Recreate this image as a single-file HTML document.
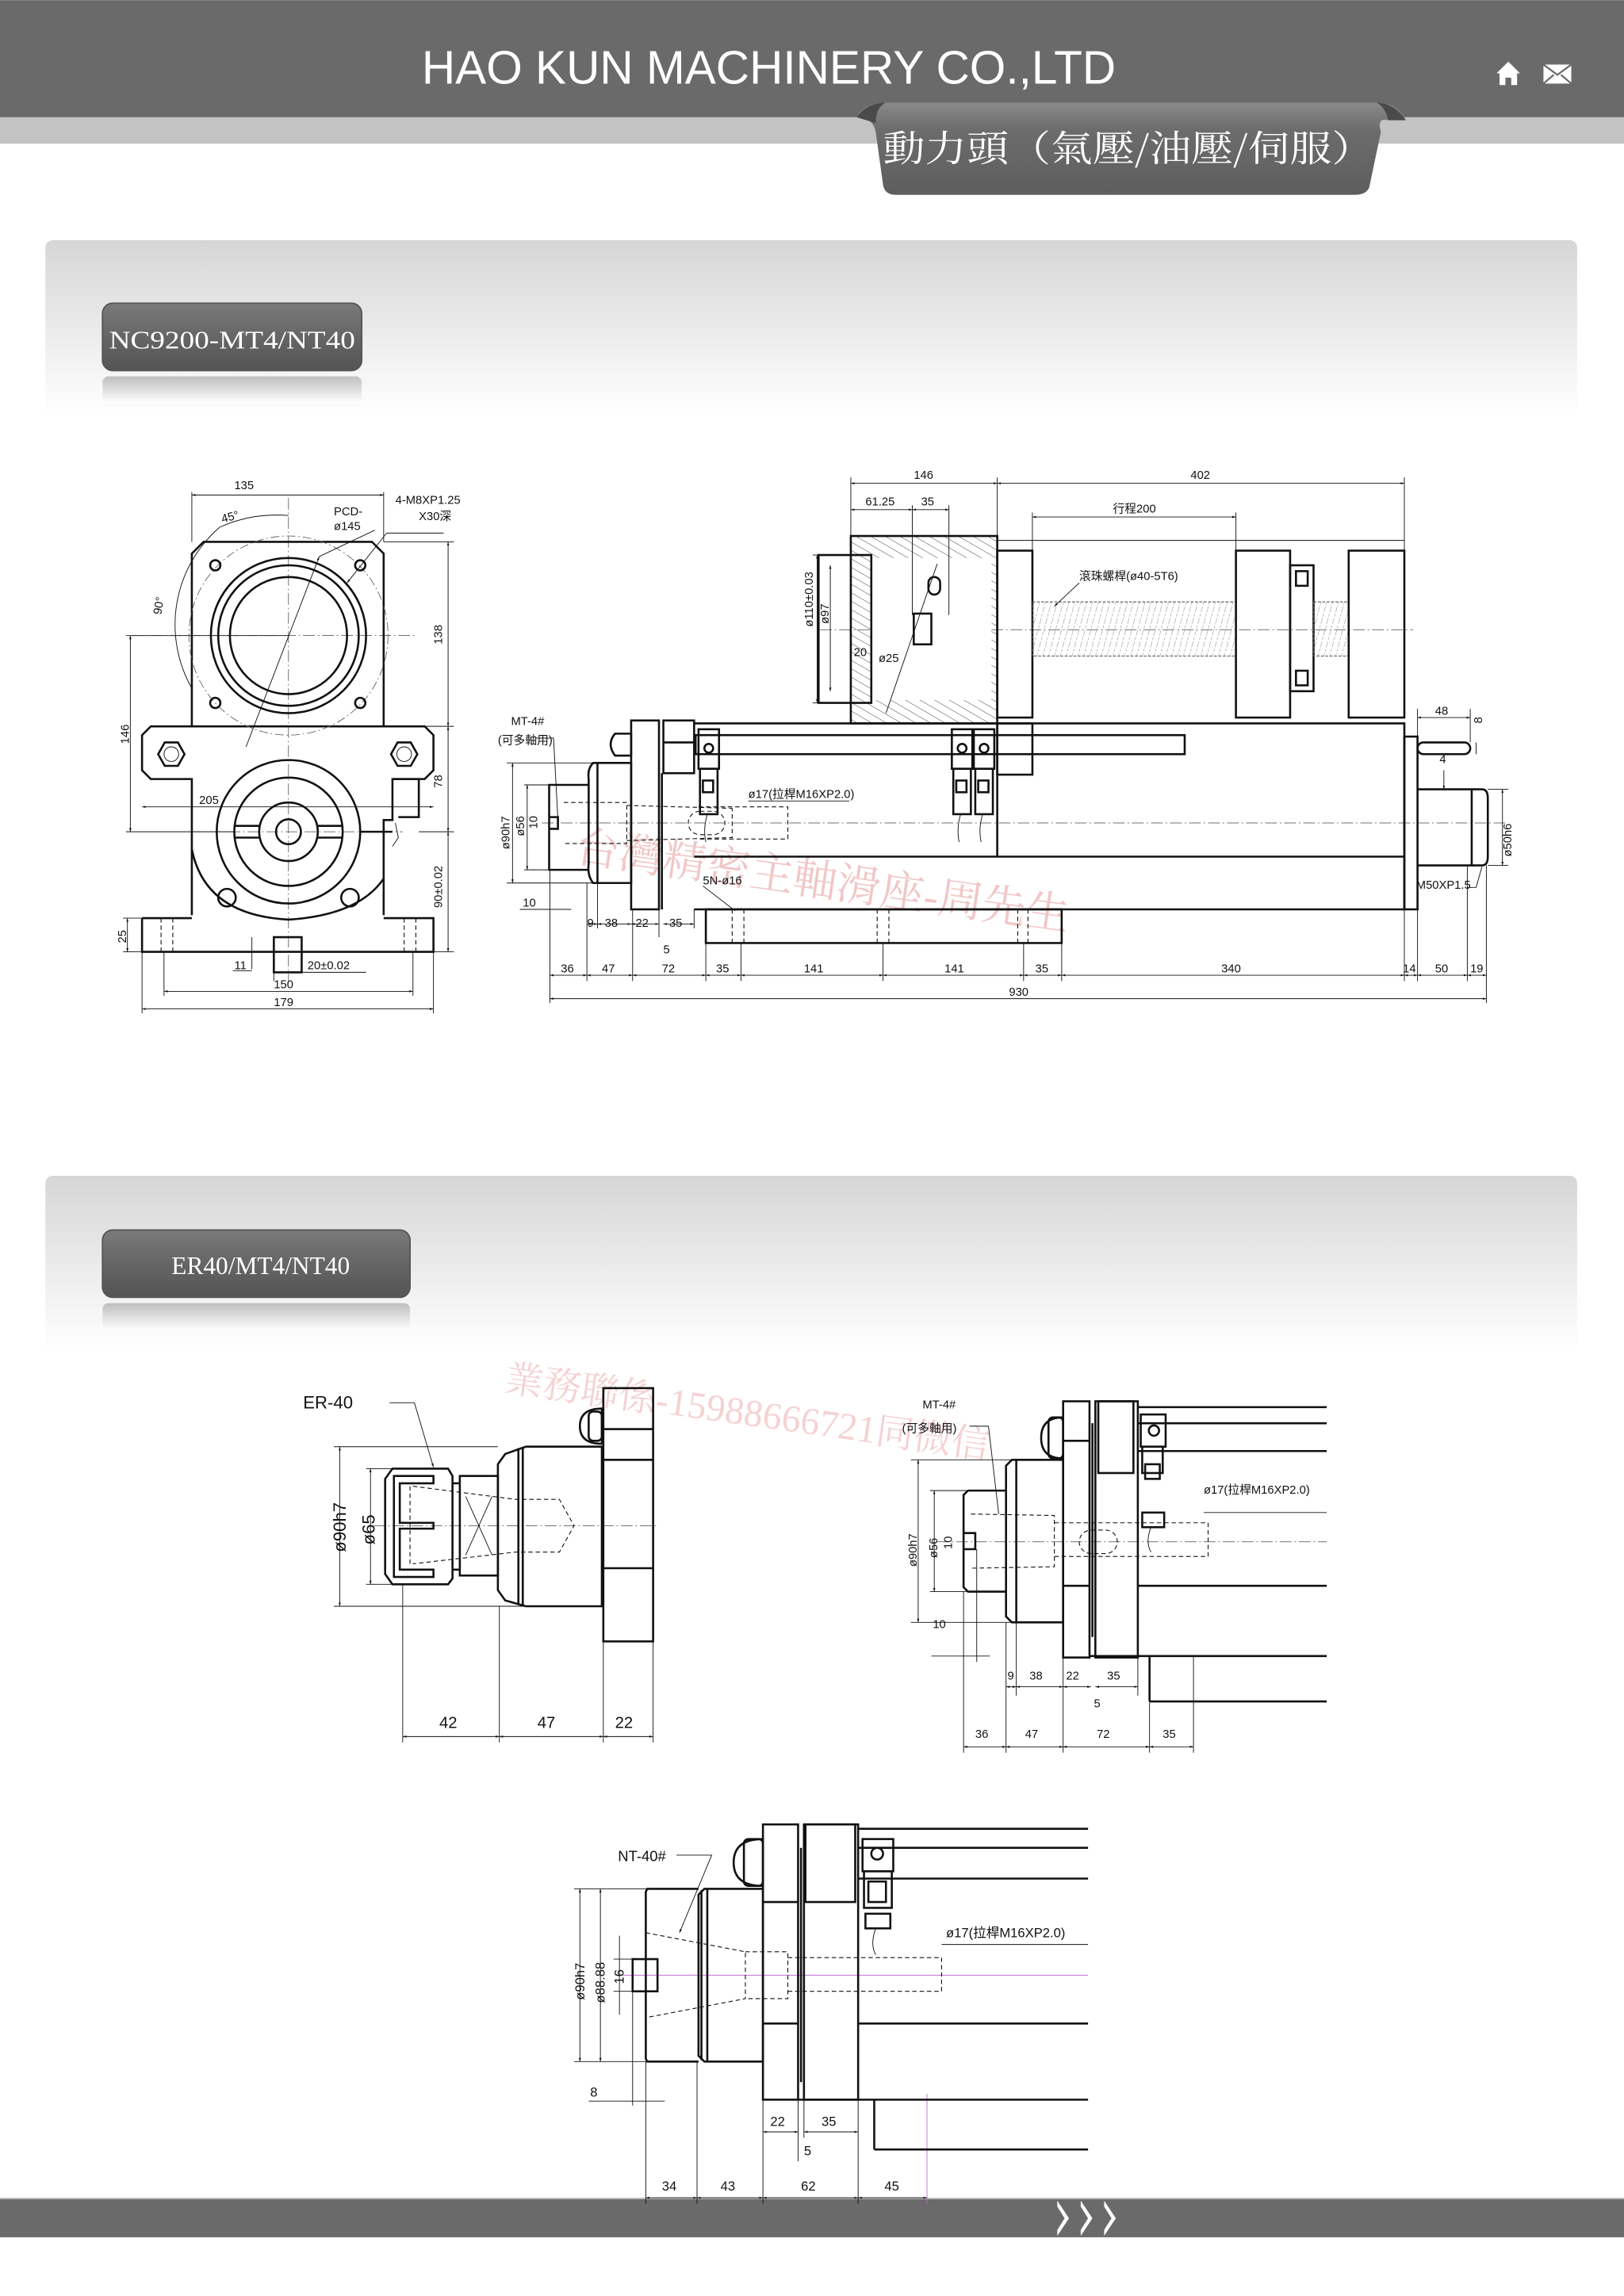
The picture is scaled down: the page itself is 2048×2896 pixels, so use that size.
<!DOCTYPE html>
<html><head><meta charset="utf-8"><style>
html,body{margin:0;padding:0;background:#fff;}
svg{display:block;}
.d{font-family:"Liberation Sans","Noto Sans CJK TC",sans-serif;font-size:8px;fill:#111;}
.k{stroke:#111;fill:none;stroke-width:1.4;}
.t{stroke:#111;fill:none;stroke-width:0.5;}
.c{stroke:#444;fill:none;stroke-width:0.4;stroke-dasharray:8 2 1 2;}
.h{stroke:#111;fill:none;stroke-width:0.6;stroke-dasharray:3 2;}
</style></head><body>
<svg width="2048" height="2896" viewBox="0 0 1109 1568" xmlns="http://www.w3.org/2000/svg">
<defs>
<linearGradient id="pg" x1="0" y1="0" x2="0" y2="1"><stop offset="0" stop-color="#d6d6d6"/><stop offset="1" stop-color="#fff"/></linearGradient>
<linearGradient id="lb" x1="0" y1="0" x2="0" y2="1"><stop offset="0" stop-color="#7a7a7a"/><stop offset="0.5" stop-color="#666"/><stop offset="1" stop-color="#545454"/></linearGradient>
<linearGradient id="rf" x1="0" y1="0" x2="0" y2="1"><stop offset="0" stop-color="#9a9a9a"/><stop offset="1" stop-color="#fff"/></linearGradient>
<linearGradient id="rb" x1="0" y1="0" x2="0" y2="1"><stop offset="0" stop-color="#8a8a8a"/><stop offset="0.3" stop-color="#6c6c6c"/><stop offset="1" stop-color="#5e5e5e"/></linearGradient>
<pattern id="hat" width="5" height="5" patternUnits="userSpaceOnUse" patternTransform="rotate(-60)"><line x1="0" y1="0" x2="0" y2="5" stroke="#333" stroke-width="0.5"/></pattern>
<pattern id="thr" width="4" height="8" patternUnits="userSpaceOnUse" patternTransform="skewX(-15)"><line x1="0" y1="0" x2="0" y2="8" stroke="#555" stroke-width="0.4" stroke-dasharray="2 1"/></pattern>
<marker id="a" viewBox="0 0 10 10" refX="10" refY="5" markerWidth="5" markerHeight="5" orient="auto-start-reverse"><path d="M0 2L10 5L0 8z" fill="#111"/></marker>
</defs>

<!-- HEADER -->
<rect x="0" y="0" width="1109" height="80" fill="#6a6a6a"/>
<rect x="0" y="80" width="1109" height="18" fill="#c3c3c3"/>
<text x="288" y="57" fill="#fff" font-family="Liberation Sans, sans-serif" font-size="32" textLength="474" lengthAdjust="spacingAndGlyphs">HAO KUN MACHINERY CO.,LTD</text>
<g fill="#fff"><path d="M1030 42l-8 8h2v8h4v-5h4v5h4v-8h2z"/><rect x="1054" y="44" width="19" height="13" fill="#fff"/><path d="M1054 44l9.5 7 9.5-7M1054 57l7-6M1073 57l-7-6" stroke="#6a6a6a" stroke-width="1.2" fill="none"/></g>
<path d="M585 80 Q590 70 605 70 L940 70 Q955 70 960 82 L948 82 Q940 80 943 90 L935 128 Q933 133 925 133 L612 133 Q604 133 603 126 L598 90 Q596 80 585 80z" fill="url(#rb)"/>
<path d="M585 80 Q592 70 605 70 Q598 73 598 84z" fill="#4a4a4a"/>
<path d="M960 82 Q952 70 940 70 Q946 73 948 82z" fill="#4a4a4a"/>
<text x="603" y="110" fill="#fff" font-family="Noto Serif CJK TC, Noto Serif CJK SC, serif" font-size="25" textLength="335" lengthAdjust="spacingAndGlyphs">動力頭（氣壓/油壓/伺服）</text>

<!-- SECTION PANELS -->
<rect x="31" y="164" width="1046" height="120" rx="5" fill="url(#pg)"/>
<rect x="31" y="803" width="1046" height="120" rx="5" fill="url(#pg)"/>
<rect x="70" y="207" width="177" height="46" rx="7" fill="url(#lb)" stroke="#555" stroke-width="1"/>
<rect x="70" y="257" width="177" height="18" rx="4" fill="url(#rf)" opacity="0.6"/>
<text x="158.5" y="238" text-anchor="middle" fill="#fff" font-family="Liberation Serif, serif" font-size="17" textLength="168" lengthAdjust="spacingAndGlyphs">NC9200-MT4/NT40</text>
<rect x="70" y="840" width="210" height="46" rx="7" fill="url(#lb)" stroke="#555" stroke-width="1"/>
<rect x="70" y="890" width="210" height="18" rx="4" fill="url(#rf)" opacity="0.6"/>
<text x="178" y="870" text-anchor="middle" fill="#fff" font-family="Liberation Serif, serif" font-size="17">ER40/MT4/NT40</text>

<!-- FOOTER -->
<rect x="0" y="1501" width="1109" height="1" fill="#bbb"/>
<rect x="0" y="1502" width="1109" height="26" fill="#6a6a6a"/>
<g fill="#fff"><path d="M722 1503l8 12-8 12v-4l5-8-5-8z"/><path d="M738 1503l8 12-8 12v-4l5-8-5-8z"/><path d="M754 1503l8 12-8 12v-4l5-8-5-8z"/></g>

<!-- WATERMARKS -->
<text x="392" y="588" fill="#e9a3a3" font-family="Liberation Serif, Noto Serif CJK TC, serif" font-size="30" transform="rotate(8 392 588)" opacity="0.6">台灣精密主軸滑座-周先生</text>
<text x="344" y="950" fill="#f0b5b5" font-family="Liberation Serif, Noto Serif CJK TC, serif" font-size="26" transform="rotate(8 344 950)" opacity="0.6">業務聯係-15988666721同微信</text>

<!-- LEFT DRAWING (front view) -->
<g>
<line class="c" x1="197" y1="340" x2="197" y2="670"/>
<line class="c" x1="90" y1="434" x2="285" y2="434"/>
<line class="c" x1="130" y1="568" x2="275" y2="568"/>
<path class="k" d="M131 378 L139 370 L254 370 L262 378 L262 496 L131 496z"/>
<line class="t" x1="131" y1="336" x2="131" y2="370"/><line class="t" x1="262" y1="336" x2="262" y2="370"/>
<line class="t" x1="131" y1="338" x2="262" y2="338" marker-start="url(#a)" marker-end="url(#a)"/>
<text class="d" x="160" y="334">135</text>
<circle class="k" cx="197" cy="434" r="53"/><circle class="k" cx="197" cy="434" r="48"/><circle class="k" cx="197" cy="434" r="40"/>
<circle cx="197" cy="434" r="68" fill="none" stroke="#666" stroke-width="0.5" stroke-dasharray="6 2 1 2"/>
<circle class="k" cx="147" cy="386" r="3.5"/><circle class="k" cx="246" cy="386" r="3.5"/><circle class="k" cx="147" cy="480" r="3.5"/><circle class="k" cx="246" cy="480" r="3.5"/>
<path class="t" d="M131 470 A88 88 0 0 1 150 360"/>
<path class="t" d="M150 360 Q172 350 197 352"/>
<text class="d" x="152" y="357" transform="rotate(-15 152 357)">45°</text>
<text class="d" x="110" y="420" transform="rotate(-80 110 420)">90°</text>
<line class="t" x1="168" y1="510" x2="218" y2="380" marker-end="url(#a)"/>
<line class="t" x1="218" y1="380" x2="256" y2="362"/>
<text class="d" x="228" y="352">PCD-</text><text class="d" x="228" y="362">ø145</text>
<line class="t" x1="303" y1="364" x2="264" y2="364"/><line class="t" x1="264" y1="364" x2="237" y2="398" marker-end="url(#a)"/>
<text class="d" x="270" y="344">4-M8XP1.25</text><text class="d" x="286" y="355">X30深</text>
<path class="k" d="M131 496 L103 496 L97 502 L97 526 L103 532 L131 532 L131 625 M262 496 L290 496 L296 502 L296 526 L290 532 L268 532 L268 560 L262 560 L262 625"/>
<path class="k" d="M268 532 L286 532 L286 558 L272 558"/>
<path class="t" d="M270 562 L272 572 L268 578"/>
<polygon class="k" points="108,515 112.5,507 121.5,507 126,515 121.5,523 112.5,523"/><circle class="t" cx="117" cy="515" r="5"/>
<polygon class="k" points="267,515 271.5,507 280.5,507 285,515 280.5,523 271.5,523"/><circle class="t" cx="276" cy="515" r="5"/>
<circle class="k" cx="197" cy="568" r="49" stroke-width="2.2"/>
<circle class="k" cx="197" cy="568" r="37"/>
<circle class="k" cx="197" cy="568" r="20"/>
<circle class="k" cx="197" cy="568" r="8.5"/>
<line class="k" x1="160" y1="564" x2="177" y2="564"/><line class="k" x1="160" y1="572" x2="177" y2="572"/>
<line class="k" x1="217" y1="564" x2="234" y2="564"/><line class="k" x1="217" y1="572" x2="234" y2="572"/>
<line class="k" x1="246" y1="568" x2="268" y2="568" stroke-width="0.8"/>
<path class="k" d="M131 580 Q140 625 197 628 Q245 625 262 600"/>
<circle class="k" cx="155" cy="613" r="6"/><circle class="k" cx="239" cy="613" r="6"/>
<path class="k" d="M97 627 L131 627 M262 627 L296 627 L296 650 L97 650 L97 627"/>
<path class="k" d="M187 640 L206 640 L206 664 L187 664z"/>
<line class="h" x1="110" y1="627" x2="110" y2="650"/><line class="h" x1="118" y1="627" x2="118" y2="650"/>
<line class="h" x1="276" y1="627" x2="276" y2="650"/><line class="h" x1="284" y1="627" x2="284" y2="650"/>
<line class="t" x1="86" y1="434" x2="197" y2="434"/><line class="t" x1="86" y1="568" x2="160" y2="568"/>
<line class="t" x1="89" y1="434" x2="89" y2="568" marker-start="url(#a)" marker-end="url(#a)"/>
<text class="d" x="88" y="508" transform="rotate(-90 88 508)">146</text>
<line class="t" x1="262" y1="370" x2="310" y2="370"/><line class="t" x1="262" y1="496" x2="310" y2="496"/><line class="t" x1="286" y1="568" x2="310" y2="568"/><line class="t" x1="296" y1="650" x2="310" y2="650"/>
<line class="t" x1="306" y1="370" x2="306" y2="496" marker-start="url(#a)" marker-end="url(#a)"/>
<line class="t" x1="306" y1="496" x2="306" y2="568" marker-start="url(#a)" marker-end="url(#a)"/>
<line class="t" x1="306" y1="568" x2="306" y2="650" marker-start="url(#a)" marker-end="url(#a)"/>
<text class="d" x="302" y="440" transform="rotate(-90 302 440)">138</text>
<text class="d" x="302" y="538" transform="rotate(-90 302 538)">78</text>
<text class="d" x="302" y="620" transform="rotate(-90 302 620)">90±0.02</text>
<line class="t" x1="97" y1="551" x2="296" y2="551" marker-start="url(#a)" marker-end="url(#a)"/>
<text class="d" x="136" y="549">205</text>
<line class="t" x1="84" y1="627" x2="97" y2="627"/><line class="t" x1="84" y1="650" x2="97" y2="650"/>
<line class="t" x1="87" y1="627" x2="87" y2="650" marker-start="url(#a)" marker-end="url(#a)"/>
<text class="d" x="86" y="644" transform="rotate(-90 86 644)">25</text>
<line class="t" x1="172" y1="640" x2="172" y2="662"/><text class="d" x="160" y="662">11</text><line class="t" x1="159" y1="663" x2="172" y2="663"/>
<line class="t" x1="187" y1="664" x2="187" y2="670"/><line class="t" x1="206" y1="664" x2="250" y2="664"/>
<text class="d" x="210" y="662">20±0.02</text>
<line class="t" x1="112" y1="650" x2="112" y2="680"/><line class="t" x1="282" y1="650" x2="282" y2="680"/>
<line class="t" x1="112" y1="677" x2="282" y2="677" marker-start="url(#a)" marker-end="url(#a)"/>
<text class="d" x="187" y="675">150</text>
<line class="t" x1="97" y1="650" x2="97" y2="692"/><line class="t" x1="296" y1="650" x2="296" y2="692"/>
<line class="t" x1="97" y1="689" x2="296" y2="689" marker-start="url(#a)" marker-end="url(#a)"/>
<text class="d" x="187" y="687">179</text>
</g>

<!-- RIGHT DRAWING (side view) -->
<g>
<line class="c" x1="560" y1="430" x2="965" y2="430"/>
<line class="c" x1="370" y1="562" x2="1030" y2="562"/>
<rect x="581" y="366" width="100" height="128" fill="url(#hat)"/>
<rect x="595" y="381" width="82" height="97" fill="#fff"/>
<path class="k" d="M581 366 L681 366 L681 494 L581 494z"/>
<path class="k" d="M559 379 L595 379 L595 480 L559 480z"/>
<line class="t" x1="605" y1="487" x2="640" y2="385"/>
<rect class="k" x="634" y="394" width="8" height="12" rx="4"/>
<rect class="k" x="624" y="419" width="12" height="21"/>
<line class="t" x1="681" y1="369" x2="959" y2="369"/>
<rect class="k" x="681" y="376" width="24" height="114"/>
<rect x="705" y="411" width="139" height="37" fill="url(#thr)" stroke="#555" stroke-width="0.6" stroke-dasharray="2 1"/>
<rect class="k" x="844" y="376" width="37" height="114"/>
<rect class="k" x="881" y="386" width="16" height="86"/>
<rect class="k" x="885" y="390" width="8" height="10"/><rect class="k" x="885" y="458" width="8" height="10"/>
<rect x="897" y="411" width="24" height="37" fill="url(#thr)" stroke="#555" stroke-width="0.6" stroke-dasharray="2 1"/>
<rect class="k" x="921" y="376" width="38" height="114"/>
<line class="t" x1="581" y1="326" x2="581" y2="366"/><line class="t" x1="681" y1="326" x2="681" y2="366"/><line class="t" x1="959" y1="326" x2="959" y2="376"/>
<line class="t" x1="581" y1="330" x2="681" y2="330" marker-start="url(#a)" marker-end="url(#a)"/>
<line class="t" x1="681" y1="330" x2="959" y2="330" marker-start="url(#a)" marker-end="url(#a)"/>
<text class="d" x="624" y="327">146</text><text class="d" x="813" y="327">402</text>
<line class="t" x1="623" y1="345" x2="623" y2="420"/><line class="t" x1="648" y1="345" x2="648" y2="420"/>
<line class="t" x1="581" y1="348" x2="623" y2="348" marker-start="url(#a)" marker-end="url(#a)"/>
<line class="t" x1="623" y1="348" x2="648" y2="348" marker-start="url(#a)" marker-end="url(#a)"/>
<text class="d" x="591" y="345">61.25</text><text class="d" x="629" y="345">35</text>
<line class="t" x1="705" y1="350" x2="705" y2="411"/><line class="t" x1="844" y1="350" x2="844" y2="376"/>
<line class="t" x1="705" y1="353" x2="844" y2="353" marker-start="url(#a)" marker-end="url(#a)"/>
<text class="d" x="760" y="350">行程200</text>
<text class="d" x="737" y="396" font-size="9">滾珠螺桿(ø40-5T6)</text>
<line class="t" x1="737" y1="398" x2="720" y2="414" marker-end="url(#a)"/>
<line class="t" x1="555" y1="379" x2="559" y2="379"/><line class="t" x1="555" y1="480" x2="559" y2="480"/>
<line class="t" x1="558" y1="379" x2="558" y2="480" marker-start="url(#a)" marker-end="url(#a)"/>
<line class="t" x1="567" y1="386" x2="567" y2="472" marker-start="url(#a)" marker-end="url(#a)"/>
<text class="d" x="555" y="428" font-size="7" transform="rotate(-90 555 428)">ø110±0.03</text>
<text class="d" x="566" y="426" font-size="7" transform="rotate(-90 566 426)">ø97</text>
<text class="d" x="583" y="448" font-size="7">20</text><text class="d" x="600" y="452" font-size="7">ø25</text>
<path class="k" d="M474 494 L959 494 L959 621 L474 621"/>
<line class="k" x1="474" y1="585" x2="959" y2="585"/>
<line class="k" x1="681" y1="494" x2="681" y2="585"/>
<rect class="k" x="681" y="494" width="24" height="35"/>
<rect class="k" x="475" y="502" width="334" height="13"/>
<rect class="k" x="431" y="492" width="19" height="129"/>
<rect class="k" x="453" y="492" width="21" height="36"/>
<line class="k" x1="453" y1="507" x2="474" y2="507"/>
<line class="k" x1="452" y1="528" x2="452" y2="621"/>
<path class="k" d="M420 501 Q414 508 420 516 L431 516 L431 501z"/>
<path class="k" d="M405 521 L431 521 L431 603 L405 603 Q401 598 402 590 L402 532 Q401 525 405 521z"/>
<line class="k" x1="408" y1="521" x2="408" y2="603"/>
<path class="k" d="M402 536 L375 536 L375 594 L402 594"/>
<path class="k" d="M375 558 L381 558 L381 566 L375 566"/>
<path class="h" d="M385 548 L428 548 L428 576 L385 576 M428 550 L500 552 M428 574 L500 572 L500 552"/>
<rect class="h" x="470" y="554" width="25" height="16" rx="8"/>
<path class="h" d="M477 551 L538 551 L538 573 L477 573"/>
<g>
<rect class="k" x="477" y="498" width="14" height="27"/><circle class="k" cx="484" cy="511" r="3"/>
<rect class="k" x="478" y="525" width="12" height="31"/><rect class="k" x="480" y="533" width="7" height="8"/>
<path class="t" d="M483 556 Q480 566 482 575"/>
<rect class="k" x="650" y="498" width="14" height="27"/><circle class="k" cx="657" cy="511" r="3"/>
<rect class="k" x="651" y="525" width="12" height="31"/><rect class="k" x="653" y="533" width="7" height="8"/>
<path class="t" d="M656 556 Q653 566 655 575"/>
<rect class="k" x="665" y="498" width="14" height="27"/><circle class="k" cx="672" cy="511" r="3"/>
<rect class="k" x="666" y="525" width="12" height="31"/><rect class="k" x="668" y="533" width="7" height="8"/>
<path class="t" d="M671 556 Q668 566 670 575"/>
</g>
<text class="d" x="511" y="545" font-size="7">ø17(拉桿M16XP2.0)</text>
<line class="t" x1="511" y1="547" x2="580" y2="547"/>
<text class="d" x="480" y="604" font-size="7">5N-ø16</text>
<line class="t" x1="480" y1="605" x2="502" y2="622"/>
<rect class="k" x="482" y="621" width="243" height="23"/>
<line class="h" x1="500" y1="621" x2="500" y2="644"/><line class="h" x1="508" y1="621" x2="508" y2="644"/>
<line class="h" x1="599" y1="621" x2="599" y2="644"/><line class="h" x1="607" y1="621" x2="607" y2="644"/>
<line class="h" x1="695" y1="621" x2="695" y2="644"/><line class="h" x1="702" y1="621" x2="702" y2="644"/>
<rect class="k" x="959" y="503" width="9" height="118"/>
<path class="k" d="M968 539 L1012 539 Q1016 539 1016 545 L1016 585 Q1016 591 1012 591 L968 591"/>
<line class="k" x1="1005" y1="539" x2="1005" y2="591"/>
<rect class="k" x="968" y="507" width="36" height="8" rx="4"/>
<line class="t" x1="968" y1="484" x2="968" y2="507"/><line class="t" x1="1004" y1="484" x2="1004" y2="507"/>
<line class="t" x1="968" y1="490" x2="1004" y2="490" marker-start="url(#a)" marker-end="url(#a)"/>
<text class="d" x="980" y="488">48</text>
<text class="d" x="1012" y="494" font-size="7" transform="rotate(-90 1012 494)">8</text>
<line class="t" x1="1008" y1="507" x2="1008" y2="515"/>
<text class="d" x="983" y="521" font-size="7">4</text><line class="t" x1="986" y1="526" x2="986" y2="539" marker-end="url(#a)"/>
<line class="t" x1="1016" y1="539" x2="1030" y2="539"/><line class="t" x1="1016" y1="591" x2="1030" y2="591"/>
<line class="t" x1="1026" y1="539" x2="1026" y2="591" marker-start="url(#a)" marker-end="url(#a)"/>
<text class="d" x="1032" y="585" font-size="7" transform="rotate(-90 1032 585)">ø50h6</text>
<text class="d" x="967" y="607" font-size="7">M50XP1.5</text>
<path class="t" d="M1002 606 L1008 606 L1012 592"/>
<text class="d" x="349" y="495" font-size="7">MT-4#</text>
<text class="d" x="340" y="508" font-size="7">(可多軸用)</text>
<path class="t" d="M366 504 L378 504 L381 560"/>
<line class="t" x1="346" y1="521" x2="405" y2="521"/><line class="t" x1="346" y1="603" x2="405" y2="603"/>
<line class="t" x1="350" y1="521" x2="350" y2="603" marker-start="url(#a)" marker-end="url(#a)"/>
<text class="d" x="348" y="580" font-size="7" transform="rotate(-90 348 580)">ø90h7</text>
<line class="t" x1="358" y1="536" x2="375" y2="536"/><line class="t" x1="358" y1="594" x2="375" y2="594"/>
<line class="t" x1="360" y1="536" x2="360" y2="594" marker-start="url(#a)" marker-end="url(#a)"/>
<text class="d" x="358" y="571" font-size="7" transform="rotate(-90 358 571)">ø56</text>
<text class="d" x="367" y="566" font-size="7" transform="rotate(-90 367 566)">10</text>
<text class="d" x="357" y="619" font-size="7">10</text>
<line class="t" x1="355" y1="621" x2="390" y2="621"/>
<g class="t">
<line x1="375.5" y1="594" x2="375.5" y2="685"/><line x1="400.8" y1="603" x2="400.8" y2="670"/><line x1="432" y1="621" x2="432" y2="670"/><line x1="482" y1="644" x2="482" y2="670"/><line x1="506" y1="644" x2="506" y2="670"/><line x1="603" y1="644" x2="603" y2="670"/><line x1="699" y1="644" x2="699" y2="670"/><line x1="725" y1="644" x2="725" y2="670"/><line x1="959" y1="621" x2="959" y2="670"/><line x1="968" y1="621" x2="968" y2="670"/><line x1="1002" y1="591" x2="1002" y2="670"/><line x1="1015" y1="591" x2="1015" y2="685"/>
<line x1="408" y1="603" x2="408" y2="634"/><line x1="450" y1="621" x2="450" y2="640"/><line x1="474" y1="621" x2="474" y2="634"/>
</g>
<g class="t" marker-start="url(#a)" marker-end="url(#a)">
<line x1="400.8" y1="631" x2="408" y2="631"/><line x1="408" y1="631" x2="431" y2="631"/><line x1="431" y1="631" x2="450" y2="631"/><line x1="453" y1="631" x2="474" y2="631"/>
<line x1="375.5" y1="666" x2="400.8" y2="666"/><line x1="400.8" y1="666" x2="432" y2="666"/><line x1="432" y1="666" x2="482" y2="666"/><line x1="482" y1="666" x2="506" y2="666"/><line x1="506" y1="666" x2="603" y2="666"/><line x1="603" y1="666" x2="699" y2="666"/><line x1="699" y1="666" x2="725" y2="666"/><line x1="725" y1="666" x2="959" y2="666"/><line x1="959" y1="666" x2="968" y2="666"/><line x1="968" y1="666" x2="1002" y2="666"/><line x1="1002" y1="666" x2="1015" y2="666"/>
<line x1="375.5" y1="682" x2="1015" y2="682"/>
</g>
<g class="d" font-size="7">
<text x="401" y="633">9</text><text x="413" y="633">38</text><text x="434" y="633">22</text><text x="457" y="633">35</text><text x="453" y="651">5</text>
<text x="383" y="664">36</text><text x="411" y="664">47</text><text x="452" y="664">72</text><text x="489" y="664">35</text><text x="549" y="664">141</text><text x="645" y="664">141</text><text x="707" y="664">35</text><text x="834" y="664">340</text><text x="958" y="664">14</text><text x="980" y="664">50</text><text x="1004" y="664">19</text>
<text x="689" y="680">930</text>
</g>
</g>

<!-- ER-40 drawing -->
<g>
<line class="c" x1="255" y1="1042" x2="450" y2="1042"/>
<rect class="k" x="412" y="948" width="34" height="173"/>
<line class="k" x1="412" y1="976" x2="446" y2="976"/><line class="k" x1="412" y1="997" x2="446" y2="997"/><line class="k" x1="412" y1="1071" x2="446" y2="1071"/>
<path class="k" d="M411 962 Q396 962 396 974 Q396 986 411 986z"/><rect class="k" x="402" y="964" width="9" height="20" rx="3"/>
<path class="k" d="M359 988 L411 988 L411 1097 L359 1097 M359 988 L345 993 L340 1000 L340 1086 L345 1093 L359 1097"/>
<line class="k" x1="354" y1="989" x2="354" y2="1096"/><line class="k" x1="357" y1="989" x2="357" y2="1096"/>
<rect class="k" x="314" y="1008" width="26" height="68"/>
<path class="t" d="M318 1022 L336 1062 M336 1022 L318 1062"/>
<line class="k" x1="309" y1="1013" x2="314" y2="1013"/><line class="k" x1="309" y1="1072" x2="314" y2="1072"/>
<path class="k" d="M268 1003 L306 1003 L309 1008 L309 1078 L306 1082 L268 1082 L263 1075 L263 1010z"/>
<path class="k" d="M269 1008 L296 1008 L296 1013 L273 1013 L273 1040 L296 1040 L296 1044 L273 1044 L273 1072 L296 1072 L296 1077 L269 1077z"/>
<path class="h" d="M280 1015 L280 1070 M282 1015 L352 1024 L382 1024 L392 1042 L382 1060 L352 1060 L282 1068"/>
<text x="207" y="962" font-family="Liberation Sans, sans-serif" font-size="12" fill="#111">ER-40</text>
<path class="t" d="M266 958 L283 958 L296 1002" marker-end="url(#a)"/>
<line class="t" x1="228" y1="988" x2="340" y2="988"/><line class="t" x1="228" y1="1097" x2="359" y2="1097"/>
<line class="t" x1="232" y1="988" x2="232" y2="1097" marker-start="url(#a)" marker-end="url(#a)"/>
<text x="236" y="1060" font-family="Liberation Sans, sans-serif" font-size="12" fill="#111" transform="rotate(-90 236 1060)">ø90h7</text>
<line class="t" x1="250" y1="1003" x2="268" y2="1003"/><line class="t" x1="250" y1="1082" x2="268" y2="1082"/>
<line class="t" x1="253" y1="1003" x2="253" y2="1082" marker-start="url(#a)" marker-end="url(#a)"/>
<text x="256" y="1055" font-family="Liberation Sans, sans-serif" font-size="12" fill="#111" transform="rotate(-90 256 1055)">ø65</text>
<g class="t"><line x1="275" y1="1082" x2="275" y2="1190"/><line x1="341" y1="1097" x2="341" y2="1190"/><line x1="412" y1="1121" x2="412" y2="1190"/><line x1="446" y1="1121" x2="446" y2="1190"/></g>
<g class="t" marker-start="url(#a)" marker-end="url(#a)"><line x1="275" y1="1186" x2="341" y2="1186"/><line x1="341" y1="1186" x2="412" y2="1186"/><line x1="412" y1="1186" x2="446" y2="1186"/></g>
<g font-family="Liberation Sans, sans-serif" font-size="11" fill="#111"><text x="300" y="1180">42</text><text x="367" y="1180">47</text><text x="420" y="1180">22</text></g>
</g>

<!-- MT-4 drawing -->
<g>
<line class="c" x1="640" y1="1053" x2="906" y2="1053"/>
<path class="k" d="M777 961 L906 961 M777 972 L906 972 M777 991 L906 991 M777 1083 L906 1083 M744 1131 L906 1131 M785 1162 L906 1162 M785 1131 L785 1162"/>
<rect class="k" x="726" y="957" width="18" height="175"/>
<line class="k" x1="726" y1="984" x2="744" y2="984"/><line class="k" x1="726" y1="1083" x2="744" y2="1083"/>
<rect class="k" x="748" y="957" width="29" height="175"/>
<rect class="k" x="750" y="957" width="24" height="49"/>
<line class="k" x1="746" y1="972" x2="746" y2="1118"/>
<path class="k" d="M726 968 Q711 968 711 982 Q711 996 726 996z"/><rect class="k" x="716" y="968" width="10" height="28" rx="3"/>
<path class="k" d="M691 997 L726 997 L726 1108 L691 1108 L687 1104 L687 1001z"/><line class="k" x1="694" y1="997" x2="694" y2="1108"/>
<path class="k" d="M687 1018 L661 1018 L658 1021 L658 1084 L661 1087 L687 1087"/>
<path class="k" d="M658 1047 L666 1047 L666 1058 L658 1058"/>
<path class="h" d="M663 1034 L720 1035 L720 1070 L663 1071 M720 1040 L825 1040 L825 1063 L720 1063"/>
<rect class="h" x="737" y="1045" width="26" height="16" rx="8"/>
<rect class="k" x="779" y="966" width="17" height="22"/><circle class="k" cx="788" cy="977" r="3.5"/>
<rect class="k" x="780" y="988" width="14" height="18"/><rect class="k" x="782" y="1000" width="10" height="10"/>
<rect class="k" x="780" y="1033" width="15" height="10"/>
<path class="t" d="M786 1043 Q782 1053 786 1060"/>
<text class="d" x="630" y="962" font-size="9">MT-4#</text>
<text class="d" x="616" y="978" font-size="9">(可多軸用)</text>
<path class="t" d="M662 974 L675 974 L682 1034"/>
<text class="d" x="822" y="1020" font-size="9">ø17(拉桿M16XP2.0)</text>
<line class="t" x1="822" y1="1033" x2="906" y2="1033"/>
<line class="t" x1="622" y1="997" x2="691" y2="997"/><line class="t" x1="622" y1="1108" x2="691" y2="1108"/>
<line class="t" x1="627" y1="997" x2="627" y2="1108" marker-start="url(#a)" marker-end="url(#a)"/>
<text class="d" x="626" y="1070" font-size="10" transform="rotate(-90 626 1070)">ø90h7</text>
<line class="t" x1="635" y1="1018" x2="660" y2="1018"/><line class="t" x1="635" y1="1087" x2="660" y2="1087"/>
<line class="t" x1="638" y1="1018" x2="638" y2="1087" marker-start="url(#a)" marker-end="url(#a)"/>
<text class="d" x="640" y="1064" font-size="10" transform="rotate(-90 640 1064)">ø56</text>
<text class="d" x="650" y="1058" font-size="9" transform="rotate(-90 650 1058)">10</text>
<text class="d" x="637" y="1112" font-size="9">10</text><line class="t" x1="636" y1="1131" x2="676" y2="1131"/>
<g class="t"><line x1="658" y1="1087" x2="658" y2="1197"/><line x1="667" y1="1058" x2="667" y2="1135"/><line x1="687" y1="1108" x2="687" y2="1197"/><line x1="694" y1="1108" x2="694" y2="1158"/><line x1="726" y1="1132" x2="726" y2="1197"/><line x1="785" y1="1162" x2="785" y2="1197"/><line x1="815" y1="1131" x2="815" y2="1197"/><line x1="777" y1="1132" x2="777" y2="1158"/></g>
<g class="t" marker-start="url(#a)" marker-end="url(#a)"><line x1="687" y1="1152" x2="694" y2="1152"/><line x1="694" y1="1152" x2="726" y2="1152"/><line x1="726" y1="1152" x2="745" y2="1152"/><line x1="748" y1="1152" x2="777" y2="1152"/>
<line x1="658" y1="1193" x2="687" y2="1193"/><line x1="687" y1="1193" x2="726" y2="1193"/><line x1="726" y1="1193" x2="785" y2="1193"/><line x1="785" y1="1193" x2="815" y2="1193"/></g>
<g class="d" font-size="10"><text x="688" y="1147">9</text><text x="703" y="1147">38</text><text x="728" y="1147">22</text><text x="756" y="1147">35</text><text x="747" y="1166">5</text>
<text x="666" y="1187">36</text><text x="700" y="1187">47</text><text x="749" y="1187">72</text><text x="794" y="1187">35</text></g>
</g>

<!-- NT-40 drawing -->
<g>
<line x1="420" y1="1349" x2="743" y2="1349" stroke="#c070d0" stroke-width="0.5"/>
<line x1="633" y1="1430" x2="633" y2="1505" stroke="#c070d0" stroke-width="0.5"/>
<path class="k" d="M586 1249 L743 1249 M586 1262 L743 1262 M586 1283 L743 1283 M586 1382 L743 1382 M545 1434 L743 1434 M597 1468 L743 1468 M597 1434 L597 1468"/>
<rect class="k" x="521" y="1246" width="24" height="188"/>
<line class="k" x1="521" y1="1299" x2="545" y2="1299"/><line class="k" x1="521" y1="1382" x2="545" y2="1382"/>
<rect class="k" x="549" y="1246" width="37" height="188"/>
<rect class="k" x="550" y="1246" width="34" height="53"/>
<line class="k" x1="547" y1="1262" x2="547" y2="1422"/>
<path class="k" d="M521 1256 Q501 1256 501 1272 Q501 1288 521 1288z"/><rect class="k" x="508" y="1256" width="13" height="32" rx="3"/>
<path class="k" d="M481 1290 L521 1290 L521 1408 L481 1408 L477 1404 L477 1294z"/>
<line class="k" x1="479" y1="1291" x2="479" y2="1407"/><line class="k" x1="483" y1="1290" x2="483" y2="1408"/>
<path class="k" d="M477 1290 L442 1290 L441 1292 L441 1406 L442 1408 L477 1408"/>
<rect class="k" x="432" y="1338" width="17" height="22"/>
<path class="h" d="M441 1320 L509 1333 L509 1365 L441 1378 M509 1333 L538 1333 L538 1365 L509 1365 M538 1337 L643 1337 L643 1360 L538 1360"/>
<rect class="k" x="589" y="1256" width="21" height="22"/><circle class="k" cx="599" cy="1266" r="4"/>
<rect class="k" x="590" y="1278" width="19" height="25"/><rect class="k" x="591" y="1307" width="17" height="10"/>
<rect class="k" x="593" y="1285" width="12" height="14"/>
<path class="t" d="M598 1317 Q594 1328 598 1335"/>
<text x="422" y="1271" font-family="Liberation Sans, sans-serif" font-size="10" fill="#111">NT-40#</text>
<path class="t" d="M462 1267 L486 1267 L464 1320" marker-end="url(#a)"/>
<text x="646" y="1323" font-family="Liberation Sans, sans-serif" font-size="9" fill="#111">ø17(拉桿M16XP2.0)</text>
<line class="t" x1="643" y1="1328" x2="743" y2="1328"/>
<line class="t" x1="392" y1="1290" x2="442" y2="1290"/><line class="t" x1="392" y1="1408" x2="442" y2="1408"/>
<line class="t" x1="396" y1="1290" x2="396" y2="1408" marker-start="url(#a)" marker-end="url(#a)"/>
<text x="399" y="1366" font-family="Liberation Sans, sans-serif" font-size="9" fill="#111" transform="rotate(-90 399 1366)">ø90h7</text>
<line class="t" x1="410" y1="1290" x2="410" y2="1408" marker-start="url(#a)" marker-end="url(#a)"/>
<text x="413" y="1368" font-family="Liberation Sans, sans-serif" font-size="9" fill="#111" transform="rotate(-90 413 1368)">ø88.88</text>
<line class="t" x1="419" y1="1338" x2="432" y2="1338"/><line class="t" x1="419" y1="1360" x2="432" y2="1360"/>
<line class="t" x1="423" y1="1322" x2="423" y2="1376"/>
<text x="426" y="1355" font-family="Liberation Sans, sans-serif" font-size="9" fill="#111" transform="rotate(-90 426 1355)">16</text>
<text x="403" y="1432" font-family="Liberation Sans, sans-serif" font-size="9" fill="#111">8</text>
<line class="t" x1="402" y1="1435" x2="454" y2="1435"/>
<g class="t"><line x1="432" y1="1360" x2="432" y2="1438"/><line x1="441" y1="1408" x2="441" y2="1505"/><line x1="476" y1="1408" x2="476" y2="1505"/><line x1="521" y1="1434" x2="521" y2="1505"/><line x1="586" y1="1434" x2="586" y2="1505"/><line x1="545" y1="1434" x2="545" y2="1476"/><line x1="549" y1="1434" x2="549" y2="1460"/></g>
<g class="t" marker-start="url(#a)" marker-end="url(#a)"><line x1="521" y1="1456" x2="545" y2="1456"/><line x1="549" y1="1456" x2="586" y2="1456"/>
<line x1="441" y1="1501" x2="476" y2="1501"/><line x1="476" y1="1501" x2="521" y2="1501"/><line x1="521" y1="1501" x2="586" y2="1501"/><line x1="586" y1="1501" x2="633" y2="1501"/></g>
<g font-family="Liberation Sans, sans-serif" font-size="9" fill="#111"><text x="526" y="1452">22</text><text x="561" y="1452">35</text><text x="549" y="1472">5</text>
<text x="452" y="1496">34</text><text x="492" y="1496">43</text><text x="547" y="1496">62</text><text x="604" y="1496">45</text></g>
</g>
</svg>
</body></html>
